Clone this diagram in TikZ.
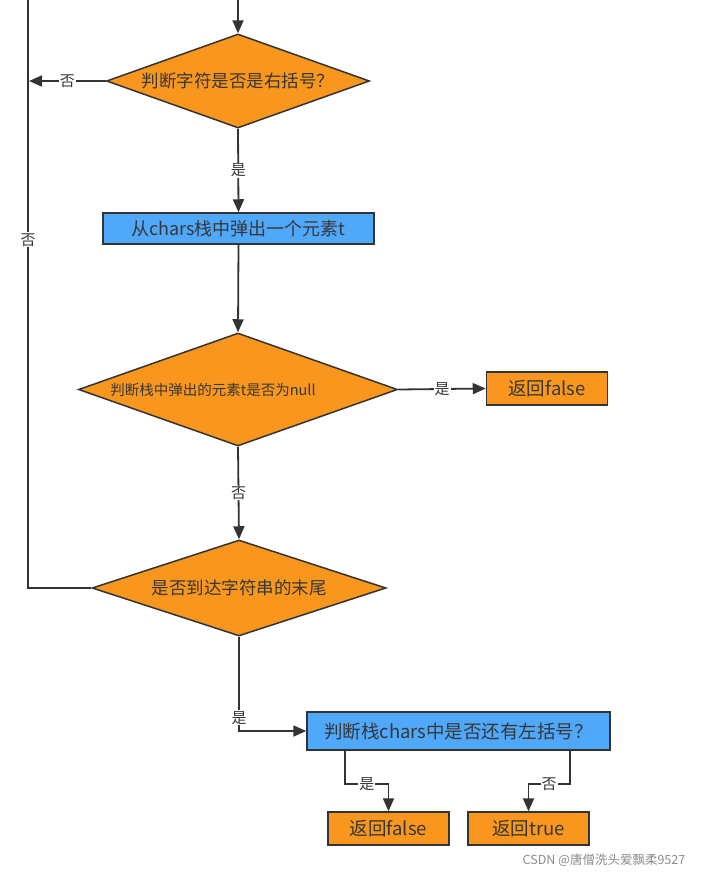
\documentclass[tikz,border=0pt]{standalone}
\usepackage{fontspec}
\setmainfont{Noto Sans CJK SC}
\usetikzlibrary{shapes.geometric,arrows.meta}
\definecolor{orng}{RGB}{248,150,30}
\definecolor{blu}{RGB}{80,168,250}
\definecolor{edgec}{RGB}{51,51,51}
\definecolor{txtc}{RGB}{55,55,55}
\tikzset{
  dia/.style={diamond, draw=edgec, line width=1.5pt, fill=orng, inner sep=0pt, text=txtc, font=\fontsize{17.5}{19}\selectfont},
  bluebox/.style={rectangle, draw=edgec, line width=1.5pt, fill=blu, inner sep=0pt, text=txtc, font=\fontsize{18}{20}\selectfont},
  orbox/.style={rectangle, draw=edgec, line width=1.5pt, fill=orng, inner sep=0pt, text=txtc, font=\fontsize{18.5}{20}\selectfont, minimum width=121, minimum height=33},
  conn/.style={draw=edgec, line width=1.8pt},
  arr/.style={conn, -{Triangle[length=13pt,width=11pt]}},
  lbl/.style={fill=white, inner sep=1pt, text=txtc, font=\fontsize{15}{17}\selectfont},
}
\begin{document}
\begin{tikzpicture}[x=1pt,y=-1pt]
\useasboundingbox[fill=white] (0,0) rectangle (702,873);
\node[dia, aspect=2.8, minimum width=263, minimum height=94] (d1) at (238,81) {判断字符是否是右括号？};
\node[bluebox, minimum width=271, minimum height=31] (b1) at (238.5,228.5) {从chars栈中弹出一个元素t};
\node[dia, aspect=2.8, minimum width=319, minimum height=113, font=\fontsize{14.5}{16}\selectfont] (d2) at (238,389.5) {\makebox[0pt][c]{\kern-50pt 判断栈中弹出的元素t是否为null}};
\node[orbox] (f1) at (547,388.5) {返回false};
\node[dia, aspect=3, minimum width=294, minimum height=96] (d3) at (239,588) {是否到达字符串的末尾};
\node[bluebox, minimum width=303, minimum height=38, font=\fontsize{18.5}{20}\selectfont] (b2) at (458.5,731) {判断栈chars中是否还有左括号？};
\node[orbox] (f2) at (388.5,828.5) {返回false};
\node[orbox] (t2) at (528.5,828.5) {返回true};
\node[font=\fontsize{12.5}{14}\selectfont, text=black!45] (wm) at (604,860) {CSDN @唐僧洗头爱飘柔9527};

\coordinate (top) at (238,0);
\coordinate (lx) at (29,81);
\coordinate (lb) at (28,588);
\coordinate (lt) at (28,0);

\draw[arr] (top) -- (d1.north);
\draw[arr] (d1.west) -- node[lbl]{否} (lx);
\draw[arr] (d1.south) -- node[lbl]{是} (b1.north);
\draw[arr] (b1.south) -- (d2.north);
\draw[arr] (d2.east) -- node[lbl]{是} (f1.west);
\draw[arr] (d2.south) -- node[lbl]{否} (d3.north);
\draw[conn] (d3.west) -- (lb) -- node[lbl, pos=0.592]{否} (lt);
\draw[arr] (d3.south) |- node[lbl, pos=0.43]{是} (b2.west);
\draw[arr] ([xshift=39]b2.south west) -- ++(0,33) -| node[lbl, pos=0.25]{是} (f2.north);
\draw[arr] ([xshift=-41]b2.south east) -- ++(0,33) -| node[lbl, pos=0.25]{否} (t2.north);
\end{tikzpicture}
\end{document}
